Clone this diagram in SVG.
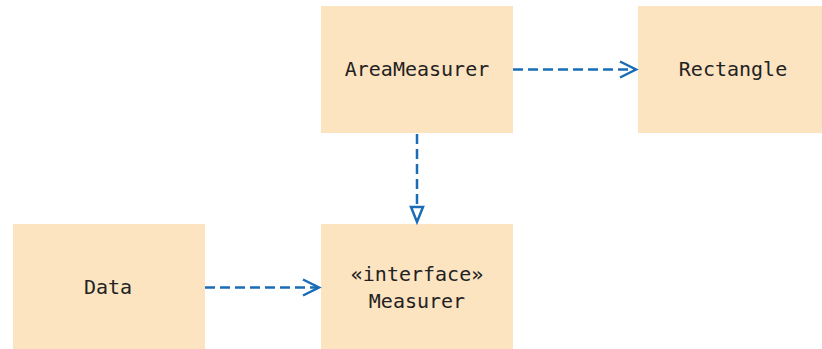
<svg xmlns="http://www.w3.org/2000/svg" width="822" height="349" viewBox="0 0 822 349">
<style>
.box{fill:#FCE4C1}
.lbl{font-family:"DejaVu Sans Mono",monospace;font-size:20px;fill:#222;text-anchor:middle}
.dep{stroke:#1A6CB6;stroke-width:2.5;fill:none;stroke-dasharray:10 5}
.head{stroke:#1A6CB6;stroke-width:2.5;fill:none}
.tri{stroke:#1A6CB6;stroke-width:2.5;fill:#fff}
</style>
<g id="AreaMeasurer"><rect class="box" x="321" y="6" width="192" height="127"/><text class="lbl" x="417" y="76">AreaMeasurer</text></g>
<g id="Rectangle"><rect class="box" x="638" y="6" width="184" height="127"/><text class="lbl" x="733" y="76">Rectangle</text></g>
<g id="Data"><rect class="box" x="13" y="224" width="192" height="125"/><text class="lbl" x="108" y="294">Data</text></g>
<g id="Measurer"><rect class="box" x="321" y="224" width="192" height="125"/><text class="lbl" x="417" y="281">«interface»</text><text class="lbl" x="417" y="308">Measurer</text></g>
<g id="connectors">
<line class="dep" x1="513" y1="69.5" x2="634" y2="69.5"/>
<polyline class="head" points="620,61.5 636,69.5 620,77.5"/>
<line class="dep" x1="417" y1="134" x2="417" y2="207"/>
<polygon class="tri" points="411,207 423,207 417,222"/>
<line class="dep" x1="205" y1="287.5" x2="318" y2="287.5"/>
<polyline class="head" points="303,279.5 319,287.5 303,295.5"/>
</g>
</svg>
